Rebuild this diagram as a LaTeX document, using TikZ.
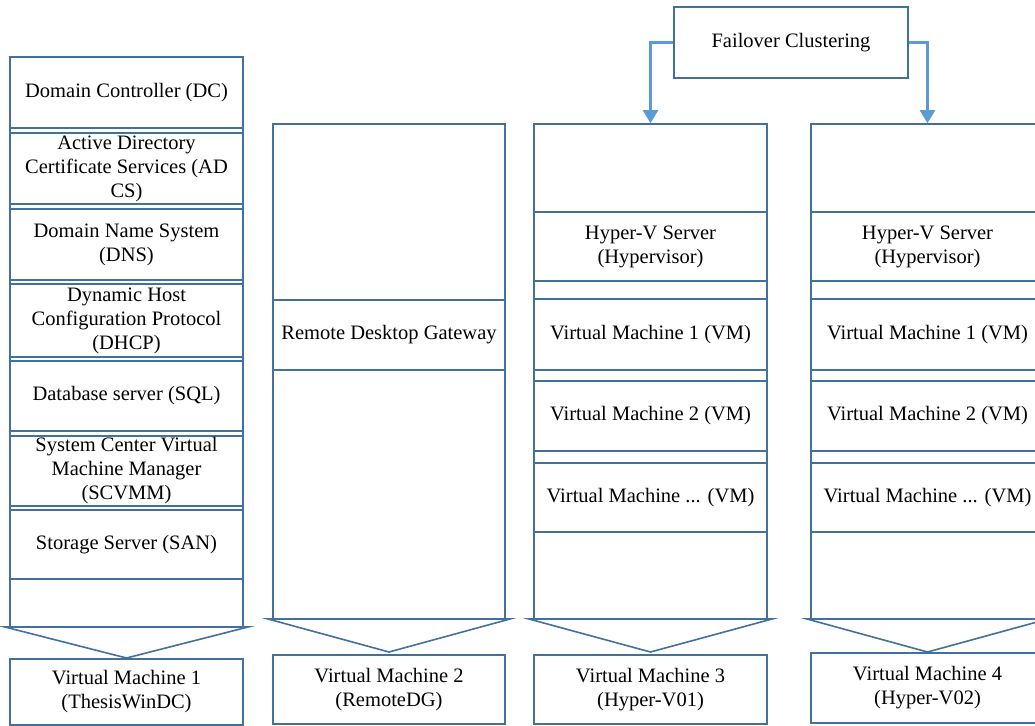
\documentclass[tikz,border=0pt]{standalone}
\usepackage{fontspec}
\setmainfont{Liberation Serif}
\usetikzlibrary{arrows.meta}
\definecolor{boxline}{RGB}{65,113,156}
\definecolor{arrline}{RGB}{91,155,213}
\begin{document}
\begin{tikzpicture}[x=1pt,y=-1pt,
  box/.style={draw=boxline, line width=1.6pt, inner sep=0pt, align=center,
    font=\fontsize{20.5}{24}\selectfont},
  chev/.style={draw=boxline, line width=1.6pt, line join=miter},
  arr/.style={draw=arrline, line width=2.4pt, -{Triangle[width=15pt,length=13pt]}}]
\useasboundingbox (0,0) rectangle (1035,725);
\clip (0,0) rectangle (1035,725);
\fill[white] (0,0) rectangle (1035,725);

% ---------- column 1 ----------
\node[box, minimum width=233pt, minimum height=570pt] (c1) at (126.5,342) {};
\node[box, minimum width=233pt, minimum height=71pt] (dc) at (126.5,92.5) {Domain Controller (DC)};
\node[box, minimum width=233pt, minimum height=71pt] (adcs) at (126.5,168.5) {Active Directory\\Certificate Services (AD\\CS)};
\node[box, minimum width=233pt, minimum height=71pt] (dns) at (126.5,244.5) {Domain Name System\\(DNS)};
\node[box, minimum width=233pt, minimum height=73pt] (dhcp) at (126.5,320.5) {Dynamic Host\\Configuration Protocol\\(DHCP)};
\node[box, minimum width=233pt, minimum height=70pt] (sql) at (126.5,396) {Database server (SQL)};
\node[box, minimum width=233pt, minimum height=70pt] (scvmm) at (126.5,471) {System Center Virtual\\Machine Manager\\(SCVMM)};
\node[box, minimum width=233pt, minimum height=69pt] (san) at (126.5,544.5) {Storage Server (SAN)};
\coordinate (t1a) at (5,627);
\coordinate (t1b) at (248,627);
\coordinate (t1c) at (126.5,658);
\draw[chev] (t1a) -- (t1b) -- (t1c) -- cycle;
\node[box, minimum width=233pt, minimum height=66pt] (vm1) at (126.5,692) {Virtual Machine 1\\(ThesisWinDC)};

% ---------- column 2 ----------
\node[box, minimum width=232pt, minimum height=495pt] (c2) at (389,371.5) {};
\node[box, minimum width=232pt, minimum height=70pt] (rdg) at (389,335) {Remote Desktop Gateway};
\coordinate (t2a) at (268,619);
\coordinate (t2b) at (510,619);
\coordinate (t2c) at (389,652);
\draw[chev] (t2a) -- (t2b) -- (t2c) -- cycle;
\node[box, minimum width=232pt, minimum height=69pt] (vm2) at (389,689.5) {Virtual Machine 2\\(RemoteDG)};

% ---------- column 3 ----------
\node[box, minimum width=233pt, minimum height=495pt] (c3) at (650.5,371.5) {};
\node[box, minimum width=233pt, minimum height=69pt] (hv1) at (650.5,246.5) {Hyper-V Server\\(Hypervisor)};
\node[box, minimum width=233pt, minimum height=71pt] (h1vm1) at (650.5,334.5) {Virtual Machine 1 (VM)};
\node[box, minimum width=233pt, minimum height=70pt] (h1vm2) at (650.5,416) {Virtual Machine 2 (VM)};
\node[box, minimum width=233pt, minimum height=69pt] (h1vmn) at (650.5,497.5) {Virtual Machine ... (VM)};
\coordinate (t3a) at (529,619);
\coordinate (t3b) at (772,619);
\coordinate (t3c) at (650.5,652);
\draw[chev] (t3a) -- (t3b) -- (t3c) -- cycle;
\node[box, minimum width=233pt, minimum height=69pt] (vm3) at (650.5,689.5) {Virtual Machine 3\\(Hyper-V01)};

% ---------- column 4 ----------
\node[box, minimum width=233pt, minimum height=495pt] (c4) at (927.5,371.5) {};
\node[box, minimum width=233pt, minimum height=69pt] (hv2) at (927.5,246.5) {Hyper-V Server\\(Hypervisor)};
\node[box, minimum width=233pt, minimum height=71pt] (h2vm1) at (927.5,334.5) {Virtual Machine 1 (VM)};
\node[box, minimum width=233pt, minimum height=70pt] (h2vm2) at (927.5,416) {Virtual Machine 2 (VM)};
\node[box, minimum width=233pt, minimum height=69pt] (h2vmn) at (927.5,497.5) {Virtual Machine ... (VM)};
\coordinate (t4a) at (807,619);
\coordinate (t4b) at (1048,619);
\coordinate (t4c) at (927.5,652);
\draw[chev] (t4a) -- (t4b) -- (t4c) -- cycle;
\node[box, minimum width=233pt, minimum height=70pt] (vm4) at (927.5,688) {Virtual Machine 4\\(Hyper-V02)};

% ---------- failover ----------
\node[box, minimum width=234pt, minimum height=71pt] (fc) at (791,42.5) {Failover Clustering};
\draw[arr] (fc.west) -| (c3.north);
\draw[arr] (fc.east) -| (c4.north);
\end{tikzpicture}
\end{document}
